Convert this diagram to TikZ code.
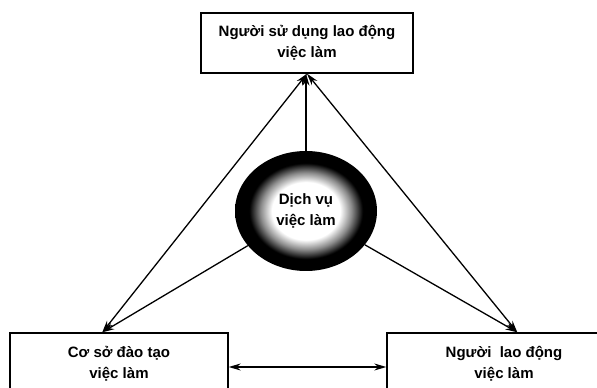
\documentclass[tikz,border=0pt]{standalone}
\usepackage{fontspec}
\setmainfont{Liberation Sans}
\usetikzlibrary{arrows.meta,shapes.geometric}

\pgfdeclareradialshading{svcglow}{\pgfpoint{0bp}{0bp}}{color(0bp)=(white); color(12bp)=(white); color(16bp)=(black!45); color(20bp)=(black); color(50bp)=(black)}

\tikzset{
  label font/.style={font=\fontsize{15}{21}\selectfont\bfseries},
  box/.style={draw, line width=1.4pt, align=center, inner sep=0pt, label font},
  arr/.style={line width=1.3pt, -{Stealth[length=12pt,width=7pt]}},
  dbl/.style={line width=1.3pt, {Stealth[length=12pt,width=7pt]}-{Stealth[length=12pt,width=7pt]}},
}

\begin{document}
\begin{tikzpicture}[x=1pt,y=1pt]
	\useasboundingbox (0,0) rectangle (597,388);
	\clip (0,0) rectangle (597,388);
	% boxes
	\node[box, minimum width=212pt, minimum height=60pt] (user) at (307,345) {Người sử dụng lao động\\việc làm};
	\node[box, minimum width=218pt, minimum height=62pt] (train) at (119,24) {Cơ sở đào tạo\\việc làm};
	\node[box, minimum width=234pt, minimum height=62pt] (worker) at (504,24) {Người\ \ lao động\\việc làm};

	% service in the middle
	\node[ellipse, shade, shading=svcglow, minimum width=142pt, minimum height=120pt, align=center, label font] (svc) at (306,177) {Dịch vụ\\việc làm};

	% arrow tips on the bottom boxes
	\coordinate (ltip) at ([xshift=93pt]train.north west);
	\coordinate (rtip) at ([xshift=131pt]worker.north west);

	% connectors
	\draw[arr] (svc.north) -- (svc.north |- user.south);
	\draw[dbl] (user.south) -- (ltip);
	\draw[dbl] (user.south) -- (rtip);
	\draw[arr] (svc) -- (ltip);
	\draw[arr] (svc) -- (rtip);
	\draw[dbl] ([yshift=-3pt]train.east) -- ([yshift=-3pt]worker.west);
\end{tikzpicture}
\end{document}
